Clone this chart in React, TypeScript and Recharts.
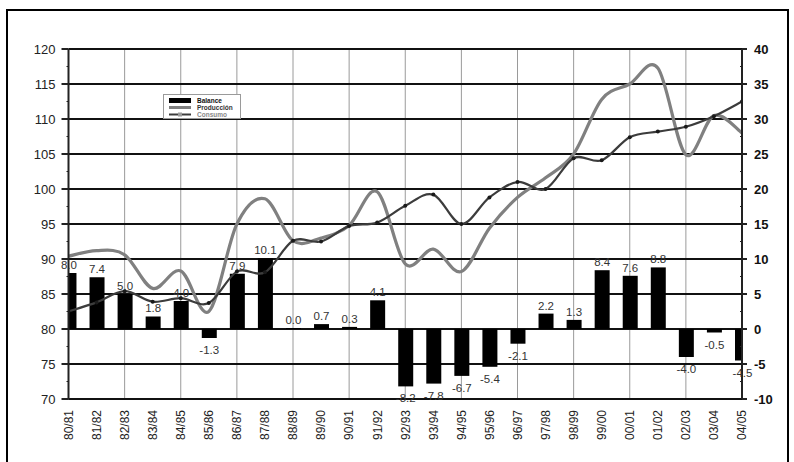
import React from 'react';
import { ComposedChart, Bar, Line, XAxis, YAxis, CartesianGrid, LabelList, Legend } from 'recharts';

const categories = ['80/81', '81/82', '82/83', '83/84', '84/85', '85/86', '86/87', '87/88', '88/89', '89/90', '90/91', '91/92', '92/93', '93/94', '94/95', '95/96', '96/97', '97/98', '98/99', '99/00', '00/01', '01/02', '02/03', '03/04', '04/05'];
const balance = [8.0, 7.4, 5.0, 1.8, 4.0, -1.3, 7.9, 10.1, 0.0, 0.7, 0.3, 4.1, -8.2, -7.8, -6.7, -5.4, -2.1, 2.2, 1.3, 8.4, 7.6, 8.8, -4.0, -0.5, -4.5];
const produccion = [90.4, 91.2, 90.6, 85.8, 88.3, 82.5, 95.0, 98.6, 92.6, 93.0, 94.8, 99.6, 89.3, 91.4, 88.2, 94.4, 98.8, 101.6, 105.0, 112.8, 115.0, 117.3, 104.9, 110.5, 108.0];
const consumo = [82.5, 83.8, 85.4, 83.9, 84.4, 83.7, 88.2, 88.1, 92.6, 92.5, 94.7, 95.2, 97.6, 99.2, 95.0, 98.8, 101.0, 100.0, 104.4, 104.1, 107.4, 108.2, 108.9, 110.4, 112.5];

const leftTicks = [70, 72.5, 75, 77.5, 80, 82.5, 85, 87.5, 90, 92.5, 95, 97.5, 100, 102.5, 105, 107.5, 110, 112.5, 115, 117.5, 120];
const leftMajor = [70, 75, 80, 85, 90, 95, 100, 105, 110, 115, 120];
const rightTicks = [-10, -7.5, -5, -2.5, 0, 2.5, 5, 7.5, 10, 12.5, 15, 17.5, 20, 22.5, 25, 27.5, 30, 32.5, 35, 37.5, 40];
const gridCats = [0, 2, 4, 6, 8, 10, 12, 14, 16, 18, 20, 22, 24];
const catIdx = categories.map((_, i) => i);

const data = categories.map((c, i) => ({
  i,
  cat: c,
  balance: balance[i],
  produccion: produccion[i],
  consumo: consumo[i],
}));

const FONT = '"Liberation Sans", Arial, Helvetica, sans-serif';

// Excel-like smoothed line (Catmull-Rom through the points)
function excelSmooth(context: any) {
  let pts: number[][] = [];
  return {
    areaStart() {},
    areaEnd() {},
    lineStart() {
      pts = [];
    },
    lineEnd() {
      const n = pts.length;
      if (n === 0) return;
      context.moveTo(pts[0][0], pts[0][1]);
      if (n === 1) return;
      for (let k = 0; k < n - 1; k++) {
        const p0 = pts[k - 1] || pts[k];
        const p1 = pts[k];
        const p2 = pts[k + 1];
        const p3 = pts[k + 2] || p2;
        const c1x = p1[0] + (p2[0] - p0[0]) / 6;
        const c1y = p1[1] + (p2[1] - p0[1]) / 6;
        const c2x = p2[0] - (p3[0] - p1[0]) / 6;
        const c2y = p2[1] - (p3[1] - p1[1]) / 6;
        context.bezierCurveTo(c1x, c1y, c2x, c2y, p2[0], p2[1]);
      }
    },
    point(x: number, y: number) {
      pts.push([x, y]);
    },
  };
}

const LeftTick = (props: any) => {
  const { x, y, payload } = props;
  const v = payload.value;
  const major = v % 5 === 0;
  return (
    <g>
      <line x1={x - (major ? 7 : 2)} x2={x} y1={y} y2={y} stroke="#222" strokeWidth={major ? 2 : 1} />
      {major && (
        <text x={x - 13} y={y} dy="0.36em" textAnchor="end" fontSize={13} fill="#222" fontFamily={FONT}>
          {v}
        </text>
      )}
    </g>
  );
};

const RightTick = (props: any) => {
  const { x, y, payload } = props;
  const v = payload.value;
  const major = v % 5 === 0;
  return (
    <g>
      {major ? (
        <line x1={x} x2={x + 5} y1={y} y2={y} stroke="#222" strokeWidth={2} />
      ) : (
        <line x1={x - 2} x2={x} y1={y} y2={y} stroke="#222" strokeWidth={1} />
      )}
      {major && (
        <text x={x + 12} y={y} dy="0.36em" textAnchor="start" fontSize={13} fontWeight="bold" fill="#111" fontFamily={FONT}>
          {v}
        </text>
      )}
    </g>
  );
};

const XTick = (props: any) => {
  const { x, y, payload } = props;
  const ty = y + 11;
  return (
    <text
      transform={`rotate(-90, ${x}, ${ty})`}
      x={x}
      y={ty}
      dy="0.36em"
      textAnchor="end"
      fontSize={12}
      fill="#222"
      fontFamily={FONT}
    >
      {categories[payload.value]}
    </text>
  );
};

const BarLabel = (props: any) => {
  const { x, y, width, height, value } = props;
  const top = Math.min(y, y + height);
  const bottom = Math.max(y, y + height);
  const cx = x + width / 2;
  const v = Number(value);
  const txt = v.toFixed(1);
  if (v >= 0) {
    return (
      <text x={cx} y={top - 4} textAnchor="middle" fontSize={11.5} fill="#333" fontFamily={FONT}>
        {txt}
      </text>
    );
  }
  return (
    <text x={cx} y={bottom + 16} textAnchor="middle" fontSize={11.5} fill="#333" fontFamily={FONT}>
      {txt}
    </text>
  );
};

const LegendBox = () => (
  <div
    style={{
      width: 78,
      height: 25,
      border: '1px solid #9a9a9a',
      background: '#fff',
      boxSizing: 'border-box',
      fontFamily: FONT,
    }}
  >
    <svg width={76} height={23} style={{ display: 'block' }}>
      <rect x={5} y={3} width={22} height={5} fill="#000" />
      <text x={33} y={8} fontSize={6.5} fontWeight="bold" fill="#111" fontFamily={FONT}>
        Balance
      </text>
      <line x1={5} x2={27} y1={12.5} y2={12.5} stroke="#808080" strokeWidth={3} />
      <text x={33} y={15} fontSize={6.5} fontWeight="bold" fill="#333" fontFamily={FONT}>
        Producción
      </text>
      <line x1={5} x2={27} y1={19.5} y2={19.5} stroke="#3c3c3c" strokeWidth={2} />
      <rect x={14} y={17.5} width={4} height={4} fill="#9a9a9a" />
      <text x={33} y={22} fontSize={6.5} fontWeight="bold" fill="#888" fontFamily={FONT}>
        Consumo
      </text>
    </svg>
  </div>
);

export default function App() {
  return (
    <div
      style={{
        position: 'absolute',
        left: 0,
        top: 0,
        width: 794,
        height: 462,
        overflow: 'hidden',
        background: '#fff',
        fontFamily: FONT,
      }}
    >
      <div style={{ position: 'absolute', left: 0, top: 0 }}>
        <ComposedChart
          width={794}
          height={462}
          data={data}
          margin={{ top: 49, right: 2, bottom: 13, left: 8.5 }}
          style={{ fontFamily: FONT }}
        >
          <CartesianGrid
            yAxisId="left"
            horizontal={false}
            verticalValues={gridCats}
            stroke="#9a9a9a"
            strokeWidth={1}
          />
          <CartesianGrid
            yAxisId="left"
            vertical={false}
            horizontalValues={leftMajor}
            stroke="#111"
            strokeWidth={2}
          />
          <XAxis
            dataKey="i"
            type="number"
            domain={[0, 24]}
            ticks={catIdx}
            interval={0}
            allowDataOverflow
            height={50}
            tickLine={false}
            tickSize={0}
            tickMargin={0}
            tick={XTick}
            axisLine={{ stroke: '#111', strokeWidth: 2 }}
          />
          <YAxis
            yAxisId="left"
            type="number"
            domain={[70, 120]}
            ticks={leftTicks}
            interval={0}
            width={60}
            tickLine={false}
            tickSize={0}
            tickMargin={0}
            tick={LeftTick}
            axisLine={{ stroke: '#222', strokeWidth: 2 }}
          />
          <YAxis
            yAxisId="right"
            orientation="right"
            type="number"
            domain={[-10, 40]}
            ticks={rightTicks}
            interval={0}
            width={50}
            tickLine={false}
            tickSize={0}
            tickMargin={0}
            tick={RightTick}
            axisLine={{ stroke: '#222', strokeWidth: 2 }}
          />
          <Bar
            yAxisId="right"
            dataKey="balance"
            name="Balance"
            fill="#000"
            barSize={15}
            minPointSize={1}
            isAnimationActive={false}
          >
            <LabelList dataKey="balance" content={BarLabel} />
          </Bar>
          <Line
            yAxisId="left"
            dataKey="produccion"
            name="Producción"
            type={excelSmooth as any}
            stroke="#808080"
            strokeWidth={3.2}
            dot={false}
            activeDot={false}
            isAnimationActive={false}
          />
          <Line
            yAxisId="left"
            dataKey="consumo"
            name="Consumo"
            type={excelSmooth as any}
            stroke="#3c3c3c"
            strokeWidth={2.2}
            dot={{ r: 2, fill: '#1a1a1a', stroke: 'none' }}
            activeDot={false}
            isAnimationActive={false}
          />
          <Legend
            layout="horizontal"
            verticalAlign="middle"
            align="center"
            content={LegendBox}
            wrapperStyle={{ left: 163, top: 94, width: 78, height: 25 }}
          />
        </ComposedChart>
      </div>
      <div
        style={{
          position: 'absolute',
          left: 6,
          top: 9,
          width: 783,
          height: 520,
          borderTop: '2px solid #000',
          borderLeft: '2px solid #000',
          borderRight: '2px solid #000',
          boxSizing: 'border-box',
          zIndex: 10,
          pointerEvents: 'none',
        }}
      />
    </div>
  );
}
